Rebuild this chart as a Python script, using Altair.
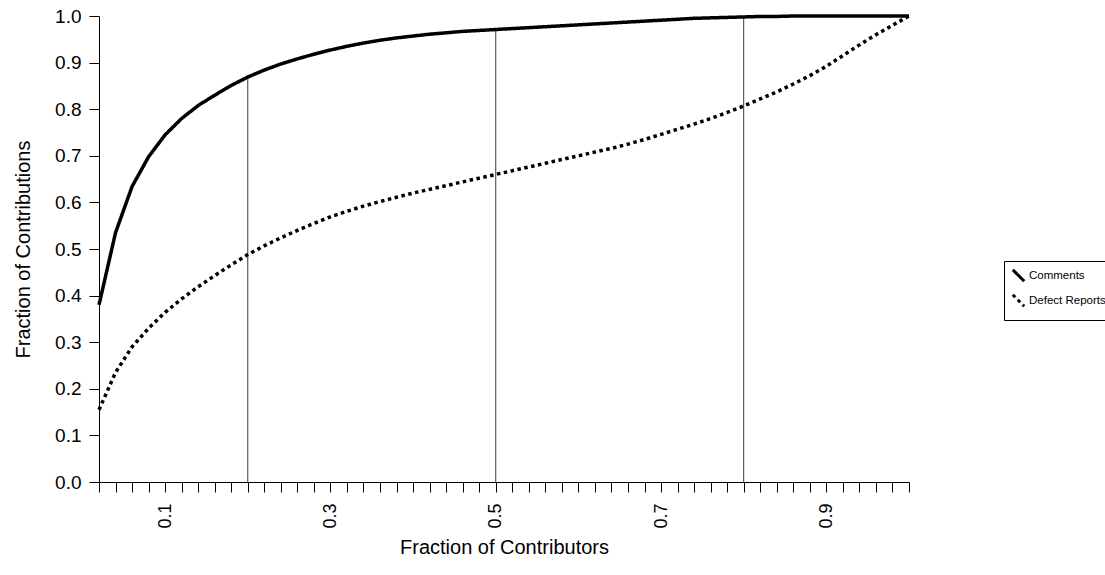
import altair as alt
import pandas as pd

# Fraction of contributors (category positions along the x axis)
contributors = [
    0.02, 0.04, 0.06, 0.08, 0.10, 0.12, 0.14, 0.16, 0.18, 0.20,
    0.22, 0.24, 0.26, 0.28, 0.30, 0.32, 0.34, 0.36, 0.38, 0.40,
    0.42, 0.44, 0.46, 0.48, 0.50, 0.52, 0.54, 0.56, 0.58, 0.60,
    0.62, 0.64, 0.66, 0.68, 0.70, 0.72, 0.74, 0.76, 0.78, 0.80,
    0.82, 0.84, 0.86, 0.88, 0.90, 0.92, 0.94, 0.96, 0.98, 1.00,
]

# Cumulative fraction of contributions
comments = [
    0.380, 0.535, 0.634, 0.698, 0.745, 0.780, 0.808, 0.830, 0.851, 0.869,
    0.884, 0.897, 0.908, 0.918, 0.927, 0.935, 0.942, 0.948, 0.953, 0.957,
    0.961, 0.964, 0.967, 0.969, 0.971, 0.973, 0.975, 0.977, 0.979, 0.981,
    0.983, 0.985, 0.987, 0.989, 0.991, 0.993, 0.995, 0.996, 0.997, 0.998,
    0.999, 0.999, 1.000, 1.000, 1.000, 1.000, 1.000, 1.000, 1.000, 1.000,
]
defect_reports = [
    0.155, 0.235, 0.290, 0.330, 0.364, 0.393, 0.419, 0.443, 0.466, 0.488,
    0.507, 0.524, 0.540, 0.555, 0.569, 0.581, 0.592, 0.602, 0.611, 0.620,
    0.628, 0.636, 0.644, 0.652, 0.660, 0.668, 0.676, 0.684, 0.692, 0.700,
    0.708, 0.716, 0.725, 0.735, 0.746, 0.757, 0.768, 0.780, 0.793, 0.807,
    0.822, 0.837, 0.854, 0.872, 0.892, 0.915, 0.938, 0.960, 0.980, 1.000,
]

series_names = ["Comments", "Defect Reports"]
labelled_ticks = [0.1, 0.3, 0.5, 0.7, 0.9]
drop_at = [0.2, 0.5, 0.8]

FONT = "Liberation Sans"

lines_df = pd.DataFrame(
    {
        "x": contributors * 2,
        "y": comments + defect_reports,
        "series": [series_names[0]] * len(contributors) + [series_names[1]] * len(contributors),
    }
)

drop_df = pd.DataFrame(
    {
        "x": drop_at,
        "y0": [0.0] * len(drop_at),
        "y1": [comments[contributors.index(v)] for v in drop_at],
    }
)

x_scale = alt.Scale(domain=[0.02, 1.0], nice=False, zero=False)
y_scale = alt.Scale(domain=[0.0, 1.0], nice=False)

label_list = "[" + ",".join(str(v) for v in labelled_ticks) + "]"

x_axis = alt.Axis(
    values=contributors,
    labelExpr=f"indexof({label_list}, round(datum.value*100)/100) >= 0 ? format(datum.value, '.1f') : ''",
    labelAngle=270,
    labelOverlap=False,
    labelFlush=False,
    labelPadding=11,
    labelFontSize=18,
    tickSize=10,
    title="Fraction of Contributors",
    titleFontSize=20,
    titlePadding=9,
    grid=False,
)

y_axis = alt.Axis(
    values=[0.0, 0.1, 0.2, 0.3, 0.4, 0.5, 0.6, 0.7, 0.8, 0.9, 1.0],
    format=".1f",
    labelFontSize=19,
    labelPadding=8,
    labelFlush=False,
    tickSize=10,
    title="Fraction of Contributions",
    titleFontSize=20,
    titlePadding=21,
    grid=False,
)

drops = (
    alt.Chart(drop_df)
    .mark_rule(color="#3a3a3a", strokeWidth=1)
    .encode(
        x=alt.X("x:Q", scale=x_scale, axis=x_axis),
        y=alt.Y("y0:Q", scale=y_scale, axis=y_axis),
        y2="y1:Q",
    )
)

lines = (
    alt.Chart(lines_df)
    .mark_line(color="black", strokeWidth=3.5, strokeCap="butt", interpolate="linear")
    .encode(
        x=alt.X("x:Q", scale=x_scale, axis=x_axis),
        y=alt.Y("y:Q", scale=y_scale, axis=y_axis),
        strokeDash=alt.StrokeDash(
            "series:N",
            scale=alt.Scale(domain=series_names, range=[[1, 0], [3.5, 3.5]]),
            legend=alt.Legend(
                title=None,
                orient="none",
                legendX=905,
                legendY=245,
                symbolType="M-1,-1L1,1",
                symbolSize=130,
                symbolStrokeWidth=3,
                symbolStrokeColor="black",
                labelFont=FONT,
                labelFontSize=11.5,
                labelColor="black",
                labelOffset=3,
                rowPadding=0,
                strokeColor="black",
                padding=7,
                cornerRadius=0,
            ),
        ),
    )
)

chart = (
    alt.layer(drops, lines)
    .properties(
        width=810,
        height=466,
        background="white",
        autosize=alt.AutoSizeParams(type="none"),
        padding={"left": 99, "top": 16, "right": 196, "bottom": 93},
    )
    .configure_view(stroke=None)
    .configure_axis(
        labelFont=FONT,
        titleFont=FONT,
        labelColor="black",
        titleColor="black",
        titleFontWeight="normal",
        domainColor="black",
        tickColor="black",
        domainWidth=1,
        tickWidth=1,
    )
)

chart.save("out.html", embed_options={"renderer": "svg", "actions": False})
